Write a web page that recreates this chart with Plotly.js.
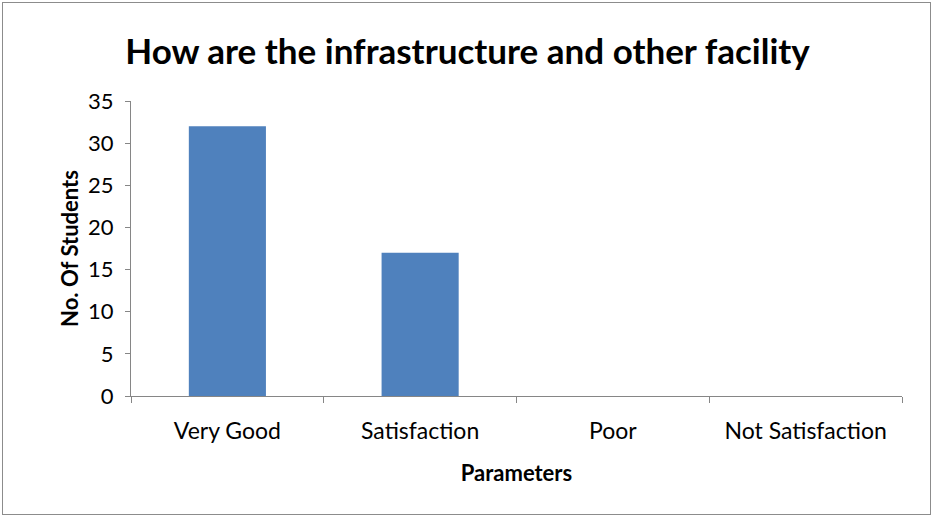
<!DOCTYPE html>
<html>
<head>
<meta charset="utf-8">
<script src="https://cdn.plot.ly/plotly-3.0.1.min.js"></script>
<style>
html,body{margin:0;padding:0;background:#fff;}
#wrap{position:relative;width:935px;height:519px;}
#chart{width:935px;height:519px;}
#frame{position:absolute;left:2px;top:2px;width:927px;height:511px;border:1px solid #8c8c8c;pointer-events:none;}
</style>
</head>
<body>
<div id="wrap"><div id="chart"></div><div id="frame"></div></div>
<script>
const categories = ["Very Good", "Satisfaction", "Poor", "Not Satisfaction"];
const students = [32, 17, 0, 0];
const yTicks = [0, 5, 10, 15, 20, 25, 30, 35];

const font = "Lato, 'Open Sans', sans-serif";

Plotly.newPlot("chart", [{
  type: "bar",
  x: categories,
  y: students,
  width: 0.4,
  marker: {color: "#4f81bd"},
  hoverinfo: "x+y"
}], {
  width: 935, height: 519,
  margin: {l: 131, r: 33, t: 101, b: 123},
  paper_bgcolor: "#fff", plot_bgcolor: "#fff",
  showlegend: false,
  title: {text: "<b>How are the infrastructure and other facility</b>", x: 0.5, xanchor: "center", y: 0.9, yanchor: "middle", font: {family: font, size: 35, color: "#000"}},
  xaxis: {
    type: "category",
    tickson: "boundaries",
    ticks: "outside", ticklen: 6, tickcolor: "#868686",
    showline: true, linecolor: "#868686", linewidth: 1,
    showgrid: false, zeroline: false,
    ticklabelstandoff: 14,
    tickfont: {family: font, size: 23, color: "#000"},
    title: {text: "<b>Parameters</b>", font: {family: font, size: 22, color: "#000"}, standoff: 23}
  },
  yaxis: {
    range: [0, 35],
    tickvals: yTicks,
    ticks: "outside", ticklen: 5, tickcolor: "#868686",
    showline: true, linecolor: "#868686", linewidth: 1,
    showgrid: false, zeroline: false,
    ticklabelstandoff: 7,
    tickfont: {family: font, size: 22, color: "#000"},
    title: {text: "<b>No. Of Students</b>", font: {family: font, size: 22, color: "#000"}, standoff: 3}
  }
}, {displayModeBar: false, staticPlot: true});
</script>
</body>
</html>
